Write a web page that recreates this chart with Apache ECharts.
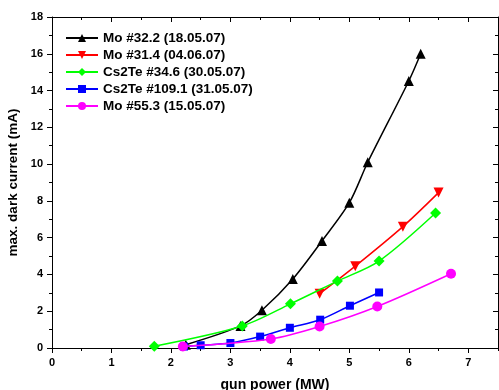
<!DOCTYPE html>
<html><head><meta charset="utf-8">
<script src="https://cdn.jsdelivr.net/npm/echarts@6/dist/echarts.min.js"></script>
<style>html,body{margin:0;padding:0;background:#fff}#c{width:499px;height:390px}</style>
</head><body><div id="c"></div>
<script>
const seriesNames = ['Mo #32.2 (18.05.07)','Mo #31.4 (04.06.07)','Cs2Te #34.6 (30.05.07)','Cs2Te #109.1 (31.05.07)','Mo #55.3 (15.05.07)'];
const powerMo322 = [2.25, 3.17, 3.53, 4.05, 4.54, 5.0, 5.31, 6.0, 6.2];
const currentMo322 = [0.18, 1.2, 2.05, 3.75, 5.82, 7.9, 10.1, 14.52, 16.0];
const powerMo314 = [4.5, 5.1, 5.9, 6.5];
const currentMo314 = [2.95, 4.45, 6.6, 8.45];
const powerCs346 = [1.72, 3.2, 4.01, 4.8, 5.5, 6.45];
const currentCs346 = [0.1, 1.2, 2.4, 3.64, 4.73, 7.34];
const powerCs1091 = [2.22, 2.5, 3.0, 3.5, 4.0, 4.51, 5.01, 5.5];
const currentCs1091 = [0.08, 0.15, 0.27, 0.62, 1.1, 1.54, 2.3, 3.02];
const powerMo553 = [2.2, 3.68, 4.5, 5.47, 6.71];
const currentMo553 = [0.08, 0.49, 1.17, 2.26, 4.04];
const xTicks = [0,1,2,3,4,5,6,7];
const yTicks = [0,2,4,6,8,10,12,14,16,18];

const FONT = 'Arial, "Liberation Sans", sans-serif';
const zip = (a,b) => a.map((v,i)=>[v,b[i]]);
const colors = ['#000000','#ff0000','#00ff00','#0000ff','#ff00ff'];
const symbols = ['triangle','triangle','diamond','rect','circle'];
const rot = [0,180,0,0,0];
const sizes = [10,10,11,8,10];
const datasets = [zip(powerMo322,currentMo322),zip(powerMo314,currentMo314),zip(powerCs346,currentCs346),zip(powerCs1091,currentCs1091),zip(powerMo553,currentMo553)];

const lineStyle = {color:'#000', width:1};
function xAx(pos, interval, len, inside, labels, line){
  return {type:'value', position:pos, offset:0, min:0, max:7.5, interval:interval,
    axisLine:{show:line, onZero:false, lineStyle:lineStyle},
    axisTick:{show:true, inside:inside, length:len, lineStyle:lineStyle},
    axisLabel:{show:labels, showMaxLabel:false, margin:9, color:'#000', fontWeight:'bold', fontSize:11, fontFamily:FONT,
      formatter:(v)=> xTicks.includes(v)? String(v):''},
    splitLine:{show:false}};
}
const xAxes = [
  Object.assign(xAx('bottom',1,5,false,true,true),{name:'gun power (MW)', nameLocation:'middle', nameGap:30,
    nameTextStyle:{color:'#000', fontWeight:'bold', fontSize:14, fontFamily:FONT}}),
  xAx('bottom',0.5,3,false,false,false),
  xAx('top',1,5,true,false,true),
  xAx('top',0.5,3,true,false,false)
];
function yAx(pos, inside, labels){
  return {type:'value', position:pos, min:0, max:18, interval:2,
    axisLine:{show:true, onZero:false, lineStyle:lineStyle},
    axisTick:{show:true, inside:inside, length:5, lineStyle:lineStyle},
    minorTick:{show:true, splitNumber:2, length:3, lineStyle:lineStyle},
    axisLabel:{show:labels, margin:9, color:'#000', fontWeight:'bold', fontSize:11, fontFamily:FONT,
      formatter:(v)=> yTicks.includes(v)? String(v):''},
    splitLine:{show:false}, minorSplitLine:{show:false}};
}
const yAxes = [
  Object.assign(yAx('left',false,true),{name:'max. dark current (mA)', nameLocation:'middle', nameGap:28,
    nameTextStyle:{color:'#000', fontWeight:'bold', fontSize:13.5, fontFamily:FONT}}),
  yAx('right',true,false)
];

const series = seriesNames.map((n,i)=>({
  name:n, type:'line', xAxisIndex:0, yAxisIndex:0, data:datasets[i], smooth:0.3,
  symbol:symbols[i], symbolRotate:rot[i], symbolSize:sizes[i], showAllSymbol:true,
  lineStyle:{color:colors[i], width:1.5}, itemStyle:{color:colors[i]}, z:2+i
}));

const chart = echarts.init(document.getElementById('c'), null, {renderer:'canvas'});
chart.setOption({
  animation:false,
  backgroundColor:'#fff',
  grid:{left:52, right:1, top:17, bottom:42, containLabel:false, outerBoundsMode:'none'},
  xAxis:xAxes, yAxis:yAxes,
  legend:{show:true, orient:'vertical', left:60, top:26, itemWidth:32, itemHeight:10, itemGap:3,
    textStyle:{color:'#000', fontWeight:'bold', fontSize:13.5, lineHeight:14, fontFamily:FONT}, data:seriesNames},
  series:series
});
</script></body></html>
